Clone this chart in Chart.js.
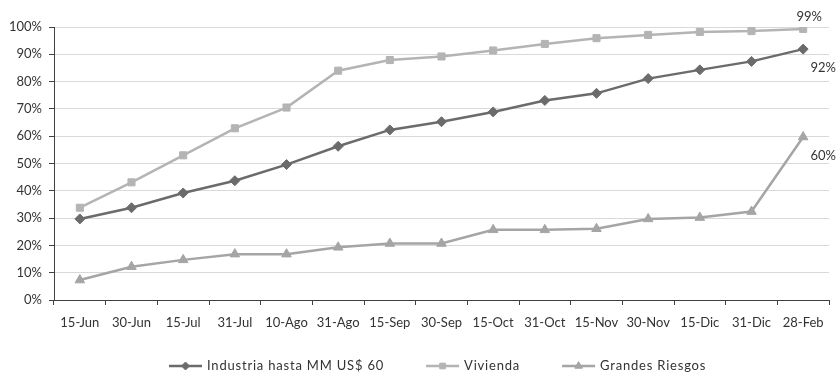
<!DOCTYPE html>
<html>
<head>
<meta charset="utf-8">
<script src="https://cdn.jsdelivr.net/npm/chart.js@4.4.0/dist/chart.umd.min.js"></script>
<style>
    body { margin: 0; background: #fff; }
    #wrap { width: 836px; height: 374px; position: relative; }
</style>
</head>
<body>
<div id="wrap"><canvas id="avance"></canvas></div>
<script>
const categories = ['15-Jun', '30-Jun', '15-Jul', '31-Jul', '10-Ago', '31-Ago', '15-Sep', '30-Sep', '15-Oct', '31-Oct', '15-Nov', '30-Nov', '15-Dic', '31-Dic', '28-Feb'];
const industria = [29.7, 33.8, 39.2, 43.7, 49.6, 56.3, 62.3, 65.3, 68.9, 73.1, 75.7, 81.1, 84.3, 87.4, 91.9];
const vivienda = [33.8, 43.1, 53.0, 62.9, 70.5, 84.0, 87.9, 89.2, 91.4, 93.8, 95.9, 97.1, 98.2, 98.5, 99.3];
const grandes = [7.3, 12.2, 14.7, 16.8, 16.8, 19.3, 20.7, 20.7, 25.7, 25.7, 26.1, 29.7, 30.2, 32.4, 59.7];
const seriesNames = ['Industria hasta MM US$ 60', 'Vivienda', 'Grandes Riesgos'];

const FONT = 'Lato, "Open Sans", sans-serif';
const TEXT = '#333333';
const AXIS = '#404040';

// label offsets for the end values (dx, dy from last point)
const endOffsets = [[20, 19], [6, -12], [20, 19]];

const endLabels = {
    id: 'endLabels',
    afterDatasetsDraw(chart) {
        const ctx = chart.ctx;
        ctx.save();
        ctx.font = '13px ' + FONT;
        ctx.fillStyle = TEXT;
        ctx.textAlign = 'center';
        ctx.textBaseline = 'middle';
        chart.data.datasets.forEach((ds, i) => {
            const meta = chart.getDatasetMeta(i);
            const last = meta.data[meta.data.length - 1];
            const v = ds.data[ds.data.length - 1];
            ctx.fillText(Math.round(v) + '%', last.x + endOffsets[i][0], last.y + endOffsets[i][1]);
        });
        ctx.restore();
    }
};

const customLegend = {
    id: 'customLegend',
    afterDraw(chart) {
        const ctx = chart.ctx;
        const y = 366;
        let x = 169;
        ctx.save();
        ctx.font = '13px ' + FONT;
        ctx.letterSpacing = '0.8px';
        ctx.textBaseline = 'middle';
        chart.data.datasets.forEach((ds, i) => {
            ctx.strokeStyle = ds.borderColor;
            ctx.fillStyle = ds.borderColor;
            ctx.lineWidth = 2.5;
            ctx.beginPath();
            ctx.moveTo(x, y);
            ctx.lineTo(x + 33, y);
            ctx.stroke();
            ctx.lineWidth = 1;
            Chart.helpers.drawPoint(ctx, {
                pointStyle: ds.pointStyle,
                radius: ds.pointRadius * 0.8,
                borderWidth: 1
            }, x + 16.5, y);
            ctx.fillStyle = TEXT;
            ctx.fillText(ds.label, x + 38, y);
            x += 38 + ctx.measureText(ds.label).width + 42;
        });
        ctx.restore();
    }
};

function makeSet(label, data, color, style, r) {
    return {
        label: label,
        data: data,
        borderColor: color,
        backgroundColor: color,
        borderWidth: 2.5,
        pointStyle: style,
        pointRadius: r,
        pointHoverRadius: r,
        pointBorderWidth: 1,
        tension: 0
    };
}

new Chart(document.getElementById('avance'), {
    type: 'line',
    data: {
        labels: categories,
        datasets: [
            makeSet(seriesNames[0], industria, '#6b6b6b', 'rectRot', 5),
            makeSet(seriesNames[1], vivienda, '#b4b4b4', 'rect', 5),
            makeSet(seriesNames[2], grandes, '#a5a5a5', 'triangle', 5.5)
        ]
    },
    options: {
        responsive: true,
        maintainAspectRatio: false,
        animation: false,
        layout: { padding: { top: 27, right: 7, left: 0, bottom: 0 } },
        plugins: {
            legend: { display: false },
            tooltip: { enabled: false }
        },
        scales: {
            x: {
                offset: true,
                grid: {
                    offset: true,
                    drawOnChartArea: false,
                    drawTicks: true,
                    tickLength: 5,
                    tickColor: AXIS
                },
                border: { color: AXIS, width: 1 },
                ticks: {
                    color: TEXT,
                    font: { family: FONT, size: 13 },
                    padding: 10,
                    maxRotation: 0,
                    autoSkip: false
                },
                afterFit: (scale) => { scale.height = 74; }
            },
            y: {
                min: 0,
                max: 100,
                grid: {
                    color: '#d9d9d9',
                    tickColor: AXIS,
                    tickLength: 5
                },
                border: { color: AXIS, width: 1 },
                ticks: {
                    stepSize: 10,
                    color: TEXT,
                    font: { family: FONT, size: 13 },
                    padding: 7,
                    callback: (v) => v + '%'
                },
                afterFit: (scale) => { scale.width = 54; }
            }
        }
    },
    plugins: [endLabels, customLegend]
});
</script>
</body>
</html>
